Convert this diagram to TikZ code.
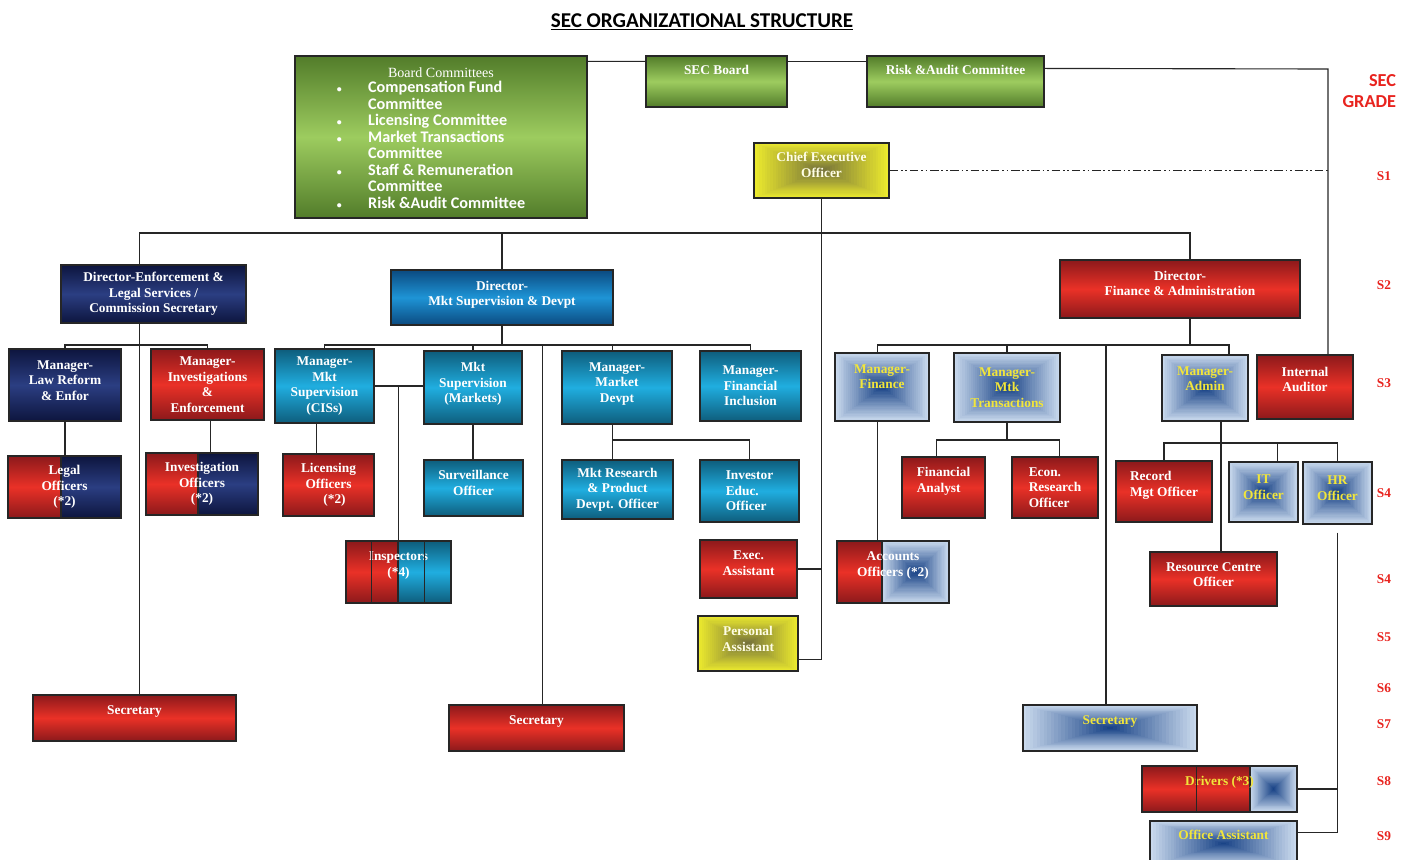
\documentclass[tikz,border=0pt]{standalone}
\usepackage{fontspec}
\setmainfont{Liberation Serif}
\newfontfamily\calibri{Carlito}
\usepackage{tikz}
\usetikzlibrary{calc}

\definecolor{redDark}{HTML}{8C191B}
\definecolor{redLight}{HTML}{EA3127}
\definecolor{cyanDark}{HTML}{0E5D7C}
\definecolor{cyanLight}{HTML}{20AEE0}
\definecolor{blueDark}{HTML}{0B4A80}
\definecolor{blueLight}{HTML}{1E94D6}
\definecolor{navyDark}{HTML}{0D153E}
\definecolor{navyLight}{HTML}{2B3E82}
\definecolor{greenDark}{HTML}{527C2A}
\definecolor{greenLight}{HTML}{9DCC5F}
\definecolor{yellowOut}{HTML}{ECEA2E}
\definecolor{yellowIn}{HTML}{76733A}
\definecolor{paleOut}{HTML}{C9D9ED}
\definecolor{paleIn}{HTML}{1A4487}
\definecolor{paleText}{HTML}{F2E63A}
\definecolor{gradeRed}{HTML}{E8231E}

% concentric fills from the edge colour (#2) to the centre colour (#1)
\newcommand{\glowrect}[4]{%
  \coordinate (glowsw) at (#3);
  \coordinate (glowne) at (#4);
  \foreach \i in {0,...,24}{
    \pgfmathsetmacro{\f}{0.5*\i/25}
    \pgfmathsetmacro{\p}{100*\i/24}
    \fill[#1!\p!#2] ($(glowsw)!\f!(glowne)$) rectangle ($(glowne)!\f!(glowsw)$);}}
% second colour band on the right side of a box (used inside path picture)
\newcommand{\rightband}[2]{%
  \shade[#1] ([xshift=-#2]path picture bounding box.south east) rectangle (path picture bounding box.north east);
  \draw[divider] ([xshift=-#2]path picture bounding box.south east) -- ([xshift=-#2]path picture bounding box.north east);}
\newcommand{\rightglow}[1]{%
  \glowrect{paleIn}{paleOut}{[xshift=-#1]path picture bounding box.south east}{path picture bounding box.north east}
  \draw[divider] ([xshift=-#1]path picture bounding box.south east) -- ([xshift=-#1]path picture bounding box.north east);}

\tikzstyle{box} = [rectangle, draw=black!85, line width=0.8pt, align=center, text=white, inner sep=1pt, font=\fontsize{9.5}{11}\selectfont\bfseries]
\tikzstyle{redbox} = [box, top color=redDark, bottom color=redDark, middle color=redLight]
\tikzstyle{cyanbox} = [box, top color=cyanDark, bottom color=cyanDark, middle color=cyanLight]
\tikzstyle{bluebox} = [box, top color=blueDark, bottom color=blueDark, middle color=blueLight]
\tikzstyle{navybox} = [box, top color=navyDark, bottom color=navyDark, middle color=navyLight]
\tikzstyle{greenbox} = [box, top color=greenDark, bottom color=greenDark, middle color=greenLight]
\tikzstyle{yellowbox} = [box, fill=yellowOut, text=white!90!yellow, path picture={\glowrect{yellowIn}{yellowOut}{path picture bounding box.south west}{path picture bounding box.north east}}]
\tikzstyle{palebox} = [box, fill=paleOut, text=paleText, path picture={\glowrect{paleIn}{paleOut}{path picture bounding box.south west}{path picture bounding box.north east}}]
\tikzstyle{link} = [draw=black!85, line width=0.8pt]
\tikzstyle{divider} = [draw=black!85, line width=0.8pt]
\tikzstyle{grade} = [text=gradeRed, font=\fontsize{9.5}{11}\selectfont\bfseries]
\tikzstyle{navyband} = [top color=navyDark, bottom color=navyDark, middle color=navyLight]
\tikzstyle{cyanband} = [top color=cyanDark, bottom color=cyanDark, middle color=cyanLight]

\begin{document}
\begin{tikzpicture}[x=0.025cm, y=-0.025cm]
\useasboundingbox (0,0) rectangle (1413,860);

\node (title) at (702,22) {\calibri\fontsize{15}{17}\selectfont\bfseries\underline{SEC ORGANIZATIONAL STRUCTURE}};
\node (gradehead) [anchor=east, align=right, text=gradeRed, font=\calibri\fontsize{13}{15}\selectfont\bfseries] at (1401,91) {SEC\\GRADE};

% board level
\node (board) [greenbox, minimum width=7.3cm, minimum height=4.05cm] at (441,137) {{\fontsize{10}{11}\selectfont\mdseries\rule{0pt}{11.5pt}Board Committees}\\[2pt]
  {\calibri\fontsize{11.5}{11.7}\selectfont\bfseries\renewcommand{\arraystretch}{1}%
  \begin{tabular}{@{}l@{\hspace{0.66cm}}l@{\hspace{0.5cm}}}
  {\fontsize{7}{8}\selectfont\textbullet} & Compensation Fund\\
   & Committee\\
  {\fontsize{7}{8}\selectfont\textbullet} & Licensing Committee\\
  {\fontsize{7}{8}\selectfont\textbullet} & Market Transactions\\
   & Committee\\
  {\fontsize{7}{8}\selectfont\textbullet} & Staff \& Remuneration\\
   & Committee\\
  {\fontsize{7}{8}\selectfont\textbullet} & Risk \&Audit Committee
  \end{tabular}}};
\node (secboard) [greenbox, minimum width=3.525cm, minimum height=1.275cm, text depth=0.6cm] at (716.5,81.5) {SEC Board};
\node (risk) [greenbox, minimum width=4.425cm, minimum height=1.275cm, text depth=0.6cm] at (955.5,81.5) {Risk \&Audit Committee};
\node (ceo) [yellowbox, minimum width=3.375cm, minimum height=1.375cm] at (821.5,170.5) {Chief Executive\\Officer\\[-3pt]};

% directors
\node (dirlaw) [navybox, minimum width=4.625cm, minimum height=1.45cm] at (153.5,294) {Director-Enforcement \&\\Legal Services /\\Commission Secretary};
\node (dirmkt) [bluebox, minimum width=5.55cm, minimum height=1.375cm] at (502,297.5) {Director-\\Mkt Supervision \& Devpt\\[-5pt]};
\node (dirfin) [redbox, minimum width=6cm, minimum height=1.45cm] at (1180,289) {Director-\\Finance \& Administration\\[-3pt]};

% managers
\node (mlaw) [navybox, minimum width=2.8cm, minimum height=1.8cm] at (65,385) {Manager-\\Law Reform\\\& Enfor\\[-4.5pt]};
\node (minv) [redbox, minimum width=2.825cm, minimum height=1.775cm] at (207.5,384.5) {Manager-\\Investigations\\\&\\Enforcement};
\node (mcis) [cyanbox, minimum width=2.475cm, minimum height=1.85cm] at (324.5,386) {Manager-\\Mkt\\Supervision\\(CISs)};
\node (mmkts) [cyanbox, minimum width=2.45cm, minimum height=1.825cm] at (473,387.5) {Mkt\\Supervision\\(Markets)\\[-4pt]};
\node (mdev) [cyanbox, minimum width=2.75cm, minimum height=1.825cm] at (617,387.5) {Manager-\\Market\\Devpt\\[-4pt]};
\node (mfin) [cyanbox, minimum width=2.525cm, minimum height=1.75cm] at (750.5,386) {Manager-\\Financial\\Inclusion};
\node (mfinance) [palebox, minimum width=2.35cm, minimum height=1.7cm] at (882,387) {Manager-\\Finance\\[4pt]};
\node (mtrans) [palebox, minimum width=2.65cm, minimum height=1.725cm] at (1007,387.5) {Manager-\\Mtk\\Transactions};
\node (madmin) [palebox, minimum width=2.15cm, minimum height=1.65cm] at (1205,388) {Manager-\\Admin\\[2pt]};
\node (audit) [redbox, minimum width=2.4cm, minimum height=1.6cm] at (1305,387) {Internal\\Auditor\\[0pt]};

% officers
\node (legal) [redbox, path picture={\rightband{navyband}{1.5cm}}, minimum width=2.825cm, minimum height=1.55cm] at (64.5,487) {Legal\\Officers\\(*2)};
\node (invoff) [redbox, path picture={\rightband{navyband}{1.5cm}}, minimum width=2.8cm, minimum height=1.55cm] at (202,484) {Investigation\\Officers\\(*2)};
\node (licoff) [redbox, minimum width=2.275cm, minimum height=1.55cm] at (328.5,485) {Licensing\\Officers\\\hspace*{0.3cm}(*2)};
\node (surv) [cyanbox, minimum width=2.475cm, minimum height=1.4cm] at (473.5,488) {Surveillance\\Officer\\[-4pt]};
\node (mktres) [cyanbox, minimum width=2.775cm, minimum height=1.475cm] at (617.5,489.5) {Mkt Research\\\& Product\\Devpt. Officer};
\node (invedu) [cyanbox, align=left, minimum width=2.475cm, minimum height=1.55cm] at (749.5,491) {Investor\\Educ.\\Officer};
\node (fanal) [redbox, align=left, minimum width=2.075cm, minimum height=1.525cm] at (943.5,487.5) {Financial\\Analyst\\[0pt]};
\node (econ) [redbox, align=left, minimum width=2.15cm, minimum height=1.525cm] at (1055,487.5) {Econ.\\Research\\Officer};
\node (recmgt) [redbox, align=left, minimum width=2.4cm, minimum height=1.525cm] at (1164,491.5) {Record\\Mgt Officer\\[0pt]};
\node (itoff) [palebox, minimum width=1.725cm, minimum height=1.5cm] at (1263.5,492) {IT\\Officer\\[-4pt]};
\node (hroff) [palebox, minimum width=1.725cm, minimum height=1.55cm] at (1337.5,493) {HR\\Officer\\[-4pt]};
\node (insp) [redbox, path picture={\rightband{cyanband}{1.325cm}}, minimum width=2.625cm, minimum height=1.55cm] at (398.5,572) {Inspectors\\(*4)\\[0pt]};
\node (execa) [redbox, minimum width=2.425cm, minimum height=1.45cm] at (748.5,569) {Exec.\\Assistant\\[-2.5pt]};
\node (accoff) [redbox, path picture={\rightglow{1.675cm}}, minimum width=2.8cm, minimum height=1.55cm] at (893,572) {Accounts\\Officers (*2)\\[0pt]};
\node (rescen) [redbox, minimum width=3.175cm, minimum height=1.35cm] at (1213.5,579) {Resource Centre\\Officer\\[-5pt]};
\node (pa) [yellowbox, minimum width=2.5cm, minimum height=1.375cm] at (748,643.5) {Personal\\Assistant\\[-4.5pt]};

% support staff
\node (secl) [redbox, minimum width=5.075cm, minimum height=1.15cm, text depth=0.42cm] at (134.5,718) {Secretary};
\node (secm) [redbox, minimum width=4.375cm, minimum height=1.15cm, text depth=0.42cm] at (536.5,728) {Secretary};
\node (secr) [palebox, minimum width=4.35cm, minimum height=1.15cm, text depth=0.42cm] at (1110,728) {Secretary};
\node (drivers) [redbox, text=paleText, path picture={\rightglow{1.175cm}}, minimum width=3.875cm, minimum height=1.15cm, text depth=0.42cm] at (1219.5,789) {Drivers (*3)};
\node (office) [palebox, minimum width=3.675cm, minimum height=1.125cm, text depth=0.42cm] at (1223.5,843.5) {Office Assistant};
\draw [divider] ([xshift=0.65cm]insp.south west) -- ([xshift=0.65cm]insp.north west);
\draw [divider] ([xshift=1.975cm]insp.south west) -- ([xshift=1.975cm]insp.north west);
\draw [divider] ([xshift=1.375cm]drivers.south west) -- ([xshift=1.375cm]drivers.north west);

% grade scale
\node (s1) [grade] at (1384,176) {S1};
\node (s2) [grade] at (1384,285) {S2};
\node (s3) [grade] at (1384,383) {S3};
\node (s4a) [grade] at (1384,493) {S4};
\node (s4b) [grade] at (1384,579) {S4};
\node (s5) [grade] at (1384,637) {S5};
\node (s6) [grade] at (1384,688) {S6};
\node (s7) [grade] at (1384,724) {S7};
\node (s8) [grade] at (1384,781) {S8};
\node (s9) [grade] at (1384,836) {S9};

\coordinate (tbus) at (0,233);
\coordinate (mbus) at (0,345);
\coordinate (dbus) at (0,440);
\coordinate (abus) at (0,443);
\coordinate (riskturn) at (1328,69);

% board and CEO links
\draw [link] ([yshift=-0.15cm]board.north east) -- ([yshift=-0.15cm]secboard.north west);
\draw [link] ([yshift=-0.15cm]secboard.north east) -- ([yshift=-0.15cm]risk.north west);
\draw [link] ([yshift=-0.325cm]risk.north east) -- (riskturn) -- (riskturn |- audit.north);
\draw [link, line width=1pt, dash pattern=on 6pt off 2pt on 1.2pt off 2pt on 1.2pt off 2pt] (ceo.east) -- (ceo.east -| riskturn);
\draw [link] ([yshift=-0.41cm]pa.east) -| (ceo.south);
\draw [link] (execa.east) -- (execa.east -| ceo.south);

% directors
\draw [link] ([xshift=-0.36cm]dirlaw.north) |- ([xshift=0.25cm]dirfin.north |- tbus) -- ([xshift=0.25cm]dirfin.north);
\draw [link] (dirmkt.north) -- (dirmkt.north |- tbus);

% enforcement and legal
\draw [link] ([xshift=-0.36cm]dirlaw.south) -- ([xshift=-0.36cm]dirlaw.south |- secl.north);
\draw [link] (mlaw.north) |- (mbus -| minv.north) -- (minv.north);
\draw [link] (mlaw.south) -- (mlaw.south |- legal.north);
\draw [link] ([xshift=0.07cm]minv.south) -- ([xshift=0.07cm]minv.south |- invoff.north);

% market supervision
\draw [link] (dirmkt.south) -- (dirmkt.south |- mbus);
\draw [link] (mcis.north) |- (mbus -| mfin.north) -- (mfin.north);
\draw [link] (mmkts.north) -- (mmkts.north |- mbus);
\draw [link] ([xshift=-0.12cm]mdev.north) -- ([xshift=-0.12cm]mdev.north |- mbus);
\draw [link] ([xshift=0.14cm]secm.north) -- ([xshift=0.14cm]secm.north |- mbus);
\draw [link] (mcis.east) -- (mcis.east -| mmkts.west);
\draw [link] (insp.north) -- (insp.north |- mcis.east);
\draw [link] ([xshift=-0.21cm]mcis.south) -- ([xshift=-0.21cm]mcis.south |- licoff.north);
\draw [link] (mmkts.south) -- (mmkts.south |- surv.north);
\draw [link] ([xshift=-0.12cm]mdev.south) -- ([xshift=-0.12cm]mdev.south |- mktres.north);
\draw [link] ([xshift=-0.12cm]mdev.south |- dbus) -| (invedu.north);

% finance and administration
\draw [link] ([xshift=0.25cm]dirfin.south) -- ([xshift=0.25cm]dirfin.south |- mbus);
\draw [link] ([xshift=-0.12cm]mfinance.north) |- ([xshift=0.6cm]madmin.north |- mbus) -- ([xshift=0.6cm]madmin.north);
\draw [link] (mtrans.north) -- (mtrans.north |- mbus);
\draw [link] ([xshift=-0.1cm]secr.north) -- ([xshift=-0.1cm]secr.north |- mbus);
\draw [link] ([xshift=-0.12cm]mfinance.south) -- ([xshift=-0.12cm]mfinance.south |- accoff.north);
\draw [link] (mtrans.south) -- (mtrans.south |- dbus);
\draw [link] ([xshift=-0.18cm]fanal.north) |- ([xshift=0.12cm]econ.north |- dbus) -- ([xshift=0.12cm]econ.north);
\draw [link] ([xshift=0.4cm]madmin.south) -- ([xshift=0.4cm]madmin.south |- rescen.north);
\draw [link] (recmgt.north) |- (hroff.north |- abus) -- (hroff.north);
\draw [link] ([xshift=0.34cm]itoff.north) -- ([xshift=0.34cm]itoff.north |- abus);
\draw [link] ([yshift=-0.2cm]hroff.south) |- ([yshift=0.28cm]office.east);
\draw [link] (drivers.east) -- (drivers.east -| hroff.south);

\end{tikzpicture}
\end{document}
